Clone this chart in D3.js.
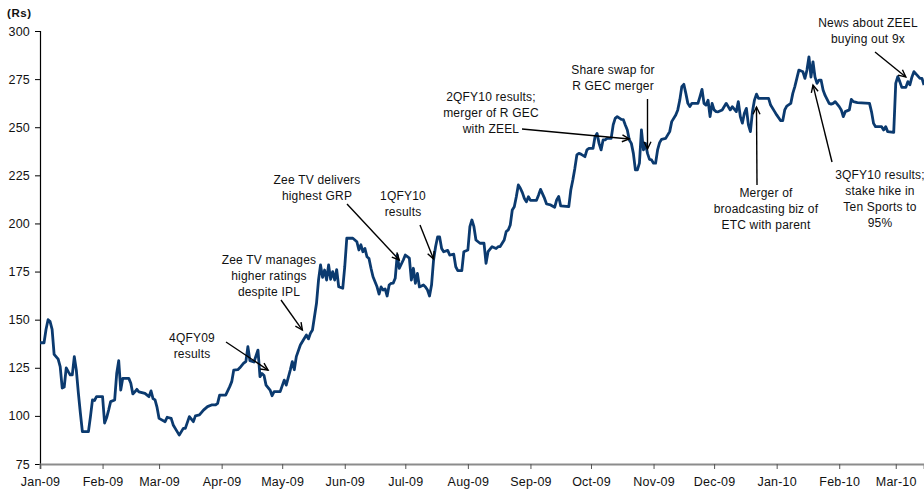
<!DOCTYPE html>
<html>
<head>
<meta charset="utf-8">
<script src="https://cdn.jsdelivr.net/npm/d3@7"></script>
<style>
    body { margin: 0; background: #fff; }
    #chart { width: 924px; height: 489px; }
    text { font-family: "Liberation Sans", Arial, sans-serif; fill: #111; }
    .axis text { font-size: 12.5px; letter-spacing: 0.2px; }
    .note { font-size: 12px; letter-spacing: 0.2px; }
</style>
</head>
<body>
<div id="chart"></div>
<script>

// days counted from 1 Jan 2009
const tradingDay = [
    0, 2, 3, 4, 5, 6, 7, 9, 10, 11, 12, 13, 14, 15, 16, 17, 18, 19, 20, 21, 24, 25, 26, 27, 28, 31, 32, 33, 34, 35,
    37, 38, 39, 40, 41, 44, 45, 46, 47, 48, 49, 52, 54, 55, 56, 57, 58, 59, 62, 63, 65, 66, 67, 69, 71, 72, 74, 76, 77, 79,
    81, 83, 85, 87, 88, 89, 92, 94, 95, 96, 98,
    99, 101, 102, 103, 104, 106, 108, 109, 110, 111, 112, 114, 115, 116, 119, 121, 122, 124, 125, 126, 127, 129, 131, 132,
    133, 134, 135, 137, 138, 139, 140, 141, 142, 143, 144, 145, 146, 147, 148, 150, 151, 152, 155, 157, 158, 159, 160, 161,
    162, 163, 164, 165, 167, 168, 169, 170, 171, 172, 173, 174, 175, 176, 177, 178, 180, 181, 183, 184, 185, 186, 187, 188,
    190, 191, 192, 193, 194, 195, 196, 197, 198, 199, 200, 202, 203,
    205, 206, 207, 209, 210, 212, 213, 214, 215, 216, 218, 220, 221, 222, 224, 226, 227, 228, 230, 231, 232, 233, 234, 235,
    236, 237, 238, 239, 240, 241, 242, 243, 246, 247, 248, 250, 251, 253, 255, 256, 257, 258, 262, 263, 264, 265, 266, 267,
    268, 270, 271, 272, 274, 275, 276, 277, 278, 279, 280, 281, 283, 284, 285, 286, 288, 289, 290, 291, 292, 293, 294, 295,
    296, 297, 298, 299, 300, 301, 302, 303, 304, 305, 306, 307,
    308, 310, 312, 313, 315, 316, 317, 318, 319, 320, 321, 322, 323, 326, 327, 328, 329, 330, 331, 332, 333, 334, 335, 336,
    338, 340, 341, 342, 343, 345, 346, 347, 348, 349, 350, 351, 352, 353, 354, 355, 356, 361, 362, 364, 365, 367, 368, 369,
    370, 372, 373, 374, 375, 376, 378, 379, 380, 381, 382, 383, 384, 385, 386, 387, 388, 389, 391, 392, 393, 394, 396, 397,
    398, 399, 401, 402, 403, 405, 411, 412, 413, 414, 417, 418, 419, 420, 423, 424, 425, 426, 427, 429, 430, 431, 432, 433,
    434, 436, 437, 438
];

const price = [
    138, 138, 145, 150, 149, 145, 132, 129.5, 125.6, 114.5, 115, 124.9, 123, 121.3, 121.3, 130.8, 123.8, 112, 101.5, 91.8,
    91.8, 99.6, 108.3, 108, 110, 110, 96.3, 99, 103, 107.4, 108.3, 122, 128.7, 113.4, 119.5, 119.5, 117, 111.4, 112.5, 113.8,
    112.5, 111.7, 110, 113, 109, 108.3, 104.4, 98.7, 97, 99.3, 98.7, 95.3, 93.5, 90, 93.5, 93.5, 99.6, 97, 100, 100.5,
    103, 104.8, 105.7, 105.7, 106.5, 110.8, 110.8, 115.2, 117.8, 123.8, 124,
    125, 127.5, 128.2, 136, 128.7, 128, 134.2, 120.4, 122, 121, 116, 113.4, 110.5, 112.6, 112.6, 118.6, 116, 123.8, 128.2, 124,
    130.8, 136.8, 140.3, 142, 140, 142.9, 144.6, 158.5, 170.6, 178.4, 172, 175.8, 170.6, 178.4, 171, 175, 170.6, 176, 167.1, 166.3,
    177.5, 192.3, 192.3, 190.5, 186.2, 188.9, 185.3, 187, 182.7, 181.8, 176.7, 172.3, 167.1, 163.3, 167, 165.4, 166, 162.3, 168, 168.9,
    169, 171.5, 183.6, 176.7, 181, 183.6, 182, 170.6, 176.7, 168.9, 174, 167, 168, 167, 165.4, 162.3, 168, 181, 187.9, 193,
    193, 187, 185.3, 186, 183.6,
    184, 177.5, 175.5, 175.5, 185.3, 186.2, 198.3, 201.8, 198.3, 191.4, 189.7, 189.7, 179.3, 185.3, 187.9, 187, 187.9, 188, 191.4, 195.8,
    196.6, 199.2, 207, 208.7, 213.9, 220, 218.3, 216, 213, 211.3, 213.9, 212, 212, 214.7, 217.7, 213, 210.1, 209.6, 208.4, 212.2,
    214, 209.1, 208.7, 217.4, 222.6, 228.6, 235.6, 236.4, 236, 234.7, 238.2, 239, 239, 245.1, 246.8, 241.6, 238.2, 243.4, 243.4, 244.2,
    244.2, 251.2, 254.6, 255.5, 254.1, 254, 251.2, 248.6, 243.4, 241.6, 236.4, 227.8, 227.8, 231.3, 248.6, 238.2, 241.6, 236.4, 233.3, 233,
    231.3, 231.3, 238.2, 242,
    243.7, 244.2, 247.7, 252.9, 256.4, 259, 264.1, 271.1, 272.3, 267.6, 262.4, 260.7, 262.4, 262.4, 265.9, 269.7, 262.4, 261.5, 264, 255.5,
    262.4, 259, 258.1, 258, 259, 262.4, 260.7, 259, 260.7, 258.1, 263.3, 255.5, 252.1, 257.3, 259.8, 251.2, 247.7, 258.1, 264.1, 267.2,
    265, 265, 261.5, 258.1, 256.4, 253.4, 253.4, 259, 261, 262.4, 267.6, 271.1, 275.4, 279.7, 278.8, 275.4, 279.7, 286.6, 276, 284,
    276, 272.8, 274.5, 274.5, 269.3, 266.5, 262.4, 262, 262.4, 263.3, 260.7, 259, 255.5, 258.1, 259, 264.5, 263.3, 262.8, 262.4, 258,
    252, 250.3, 250.3, 248.6, 250.3, 247.7, 247.3, 272.8, 276.3, 273.7, 270.7, 270.7, 273.7, 272, 276, 278.9, 277.7, 275.4, 275.4, 271.9
];

const yTicks = [75, 100, 125, 150, 175, 200, 225, 250, 275, 300];

// event notes: text lines and the day / price the arrow points at
const noteText = [
    ["4QFY09", "results"],
    ["Zee TV manages", "higher ratings", "despite IPL"],
    ["Zee TV delivers", "highest GRP"],
    ["1QFY10", "results"],
    ["2QFY10 results;", "merger of R GEC", "with ZEEL"],
    ["Share swap for", "R GEC merger"],
    ["Merger of", "broadcasting biz of", "ETC with parent"],
    ["3QFY10 results;", "stake hike in", "Ten Sports to", "95%"],
    ["News about ZEEL", "buying out 9x"]
];
const noteDay = [113, 130, 178, 195, 292, 301, 355, 383, 429];
const notePrice = [123.8, 144.6, 181, 181.5, 243.9, 238.7, 260.5, 271.9, 276.1];

class PriceChart {
    constructor(_parentElement) {
        this.parentElement = _parentElement;
        this.initVis();
    }

    initVis() {
        let vis = this;

        vis.width = 924;
        vis.height = 489;

        vis.svg = d3.select("#" + vis.parentElement).append("svg")
            .attr("width", vis.width)
            .attr("height", vis.height);

        vis.start = new Date(2009, 0, 1);
        vis.dates = tradingDay.map(d => d3.timeDay.offset(vis.start, d));

        vis.x = d3.scaleTime()
            .domain([vis.start, new Date(2010, 2, 15)])
            .range([40, 924]);

        vis.y = d3.scaleLinear()
            .domain([75, 300])
            .range([464, 31]);

        // y axis (black)
        vis.yAxis = d3.axisLeft(vis.y)
            .tickValues(yTicks)
            .tickSize(5)
            .tickPadding(5);

        vis.svg.append("g")
            .attr("class", "axis y-axis")
            .attr("transform", "translate(40,0)")
            .call(vis.yAxis)
            .call(g => g.select(".domain").attr("stroke", "#000").attr("stroke-width", 1.2))
            .call(g => g.selectAll(".tick line").attr("stroke", "#000"))
            .call(g => g.selectAll(".tick text").attr("fill", "#111"));

        // x axis (grey)
        vis.xAxis = d3.axisBottom(vis.x)
            .ticks(d3.timeMonth.every(1))
            .tickFormat(d3.timeFormat("%b-%y"))
            .tickSizeOuter(0)
            .tickSize(5)
            .tickPadding(8);

        vis.svg.append("g")
            .attr("class", "axis x-axis")
            .attr("transform", "translate(0,464)")
            .call(vis.xAxis)
            .call(g => g.select(".domain").attr("stroke", "#8c8c8c").attr("stroke-width", 2))
            .call(g => g.selectAll(".tick line").attr("stroke", "#555"))
            .call(g => g.selectAll(".tick text").attr("fill", "#111"));

        vis.svg.append("text")
            .attr("x", 7)
            .attr("y", 17)
            .style("font-size", "11.5px")
            .style("font-weight", "bold")
            .style("letter-spacing", "0.6px")
            .text("(Rs)");

        vis.updateVis();
    }

    updateVis() {
        let vis = this;

        let line = d3.line()
            .x((d, i) => vis.x(vis.dates[i]))
            .y(d => vis.y(d));

        vis.svg.append("path")
            .datum(price)
            .attr("d", line)
            .attr("fill", "none")
            .attr("stroke", "#0b3a6f")
            .attr("stroke-width", 2.8)
            .attr("stroke-linejoin", "round");

        // label centre / first baseline, arrow tail (pixels)
        let layout = [
            {lx: 192, ly: 342, tx: 226, ty: 342},
            {lx: 269, ly: 264, tx: 281, ty: 300},
            {lx: 317, ly: 184, tx: 347, ty: 204},
            {lx: 403, ly: 200, tx: 420, ty: 225},
            {lx: 491, ly: 101, tx: 522, ty: 129},
            {lx: 613, ly: 74, tx: 647.5, ty: 99},
            {lx: 766, ly: 197, tx: 757, ty: 185},
            {lx: 880, ly: 179, tx: 832, ty: 162},
            {lx: 868, ly: 27, tx: 875, ty: 52}
        ];

        let notes = vis.svg.append("g").attr("class", "notes");

        noteText.forEach(function (lines, i) {
            let L = layout[i];
            let px = vis.x(d3.timeDay.offset(vis.start, noteDay[i]));
            let py = vis.y(notePrice[i]);

            let t = notes.append("text")
                .attr("class", "note")
                .attr("text-anchor", "middle");
            lines.forEach(function (s, j) {
                t.append("tspan")
                    .attr("x", L.lx)
                    .attr("y", L.ly + j * 16)
                    .text(s);
            });

            notes.append("line")
                .attr("x1", L.tx).attr("y1", L.ty)
                .attr("x2", px).attr("y2", py)
                .attr("stroke", "#000")
                .attr("stroke-width", 1.4);

            let ang = Math.atan2(py - L.ty, px - L.tx);
            let head = 8, spread = 0.45;
            notes.append("path")
                .attr("d", "M" + (px - head * Math.cos(ang - spread)) + "," + (py - head * Math.sin(ang - spread))
                    + "L" + px + "," + py
                    + "L" + (px - head * Math.cos(ang + spread)) + "," + (py - head * Math.sin(ang + spread)))
                .attr("fill", "none")
                .attr("stroke", "#000")
                .attr("stroke-width", 1.4);
        });
    }
}

new PriceChart("chart");
</script>
</body>
</html>
